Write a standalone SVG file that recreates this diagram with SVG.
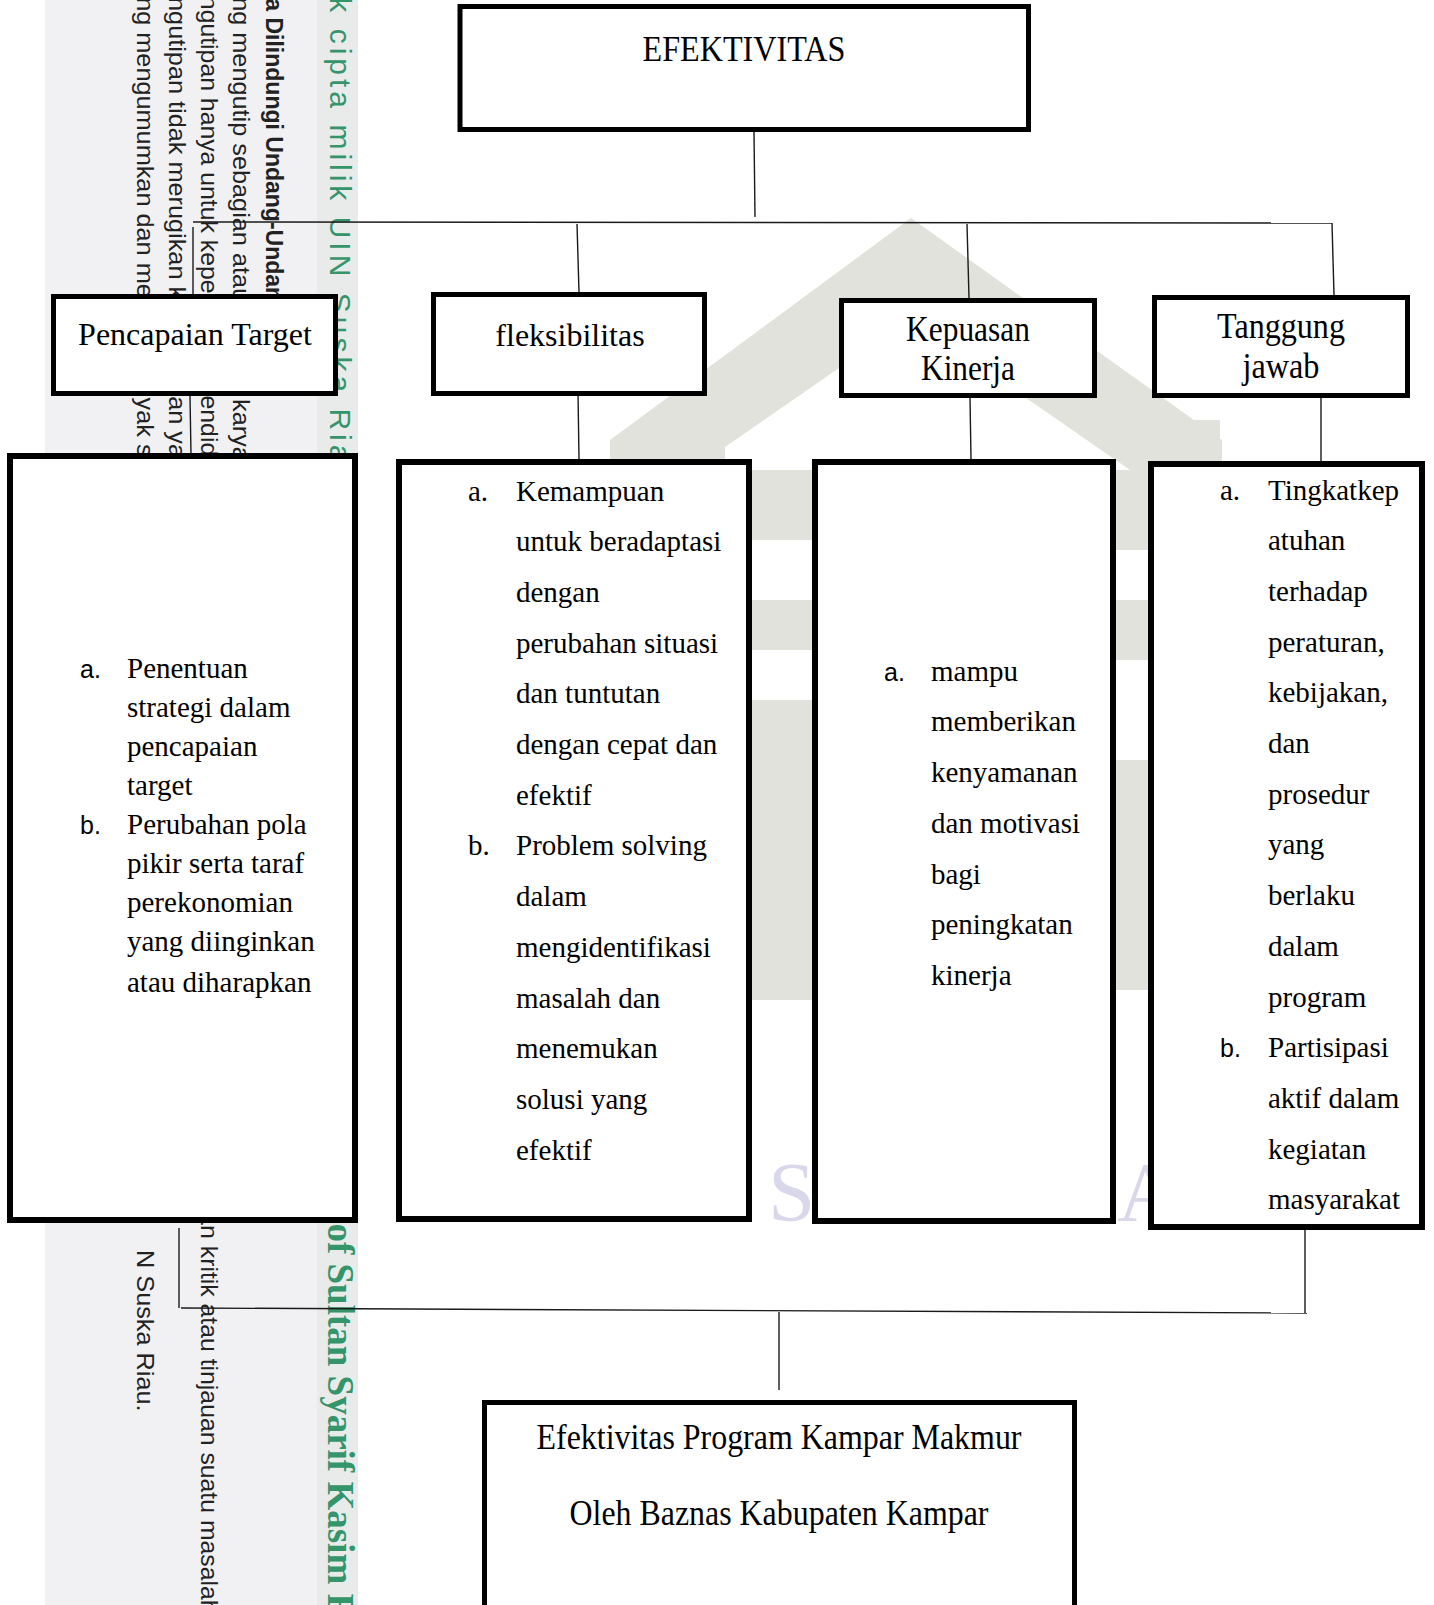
<svg xmlns="http://www.w3.org/2000/svg" width="1434" height="1605" viewBox="0 0 1434 1605">
<style>
.box{fill:#ffffff;stroke:#000000;stroke-width:5}
.box6{fill:#ffffff;stroke:#000000;stroke-width:6}
.ln{stroke:#1a1a1a;stroke-width:1.4;fill:none}
.t32{font-family:"Liberation Serif","Times New Roman",serif;font-size:32px;fill:#000}
.t36{font-family:"Liberation Serif","Times New Roman",serif;font-size:36px;fill:#000}
.t29{font-family:"Liberation Serif","Times New Roman",serif;font-size:29px;fill:#000}
.lbs{font-family:"Liberation Sans",Arial,sans-serif;font-size:25px;fill:#000}
.wm{font-family:"Liberation Sans",Arial,sans-serif;font-size:23px;fill:#222}
.wmb{font-family:"Liberation Sans",Arial,sans-serif;font-size:23px;font-weight:bold;fill:#222}
.gr{fill:#35956a;font-family:"Liberation Sans",Arial,sans-serif;font-size:30px;letter-spacing:4px}
.grs{fill:#35956a;font-family:"Liberation Serif","Times New Roman",serif;font-size:37px;font-weight:bold}
.logo{fill:#e2e2dc}
</style>

<!-- background watermark band -->
<g id="watermark">
  <rect x="45" y="0" width="272" height="1605" fill="#f1f1f3"/>
  <rect x="317" y="0" width="41" height="1605" fill="#e9eaea"/>
  <text class="wmb" transform="translate(266,-95) rotate(90)">Hak Cipta Dilindungi Undang-Undang</text>
  <text class="wm" transform="translate(233,-97) rotate(90) scale(1.1,1)">1. Dilarang mengutip sebagian atau seluruh karya tulis ini tanpa mencantumkan dan menyebutkan sumber:</text>
  <text class="wm" transform="translate(201,-62) rotate(90) scale(1.078,1)">a. Pengutipan hanya untuk kepentingan pendidikan, penelitian, penulisan karya ilmiah, penyusunan laporan, penulisan kritik atau tinjauan suatu masalah.</text>
  <text class="wm" transform="translate(169,-62) rotate(90) scale(1.1,1)">b. Pengutipan tidak merugikan kepentingan yang wajar UIN Suska Riau.</text>
  <text class="wm" transform="translate(137,-97) rotate(90) scale(1.1,1)">2. Dilarang mengumumkan dan memperbanyak sebagian atau seluruh karya tulis ini dalam bentuk apapun tanpa izin</text>
  <text class="wm" transform="translate(137,1250) rotate(90) scale(1.1,1)">N Suska Riau.</text>
  <text class="gr" transform="translate(330,-49) rotate(90)">Hak cipta milik UIN Suska Riau</text>
  <text class="grs" transform="translate(328,836) rotate(90)">State Islamic University of Sultan Syarif Kasim Riau</text>
  <!-- faint logo -->
  <polygon class="logo" points="911,218 1222,440 1222,470 1130,470 911,318 692,470 610,470 610,440"/>
  <rect class="logo" x="612" y="440" width="46" height="30"/>
  <rect class="logo" x="680" y="420" width="45" height="50"/>
  <rect class="logo" x="1170" y="420" width="50" height="50"/>
  <rect class="logo" x="752" y="470" width="60" height="70"/>
  <rect class="logo" x="752" y="600" width="60" height="50"/>
  <rect class="logo" x="752" y="700" width="60" height="300"/>
  <rect class="logo" x="1116" y="470" width="32" height="80"/>
  <rect class="logo" x="1116" y="600" width="32" height="60"/>
  <rect class="logo" x="1116" y="760" width="32" height="230"/>
  <text x="768" y="1221" font-family="'Liberation Serif',serif" font-size="85" fill="#d8d8ea" letter-spacing="33">SUSKA</text>
</g>

<g id="connectors">
  <path class="ln" d="M754,132 L755,217"/>
  <path class="ln" d="M193,222 L1332,223"/>
  <path class="ln" d="M193,227 L193,294"/>
  <path class="ln" d="M577,224 L579,292"/>
  <path class="ln" d="M967,224 L969,298"/>
  <path class="ln" d="M1332,223 L1334,295"/>
  <path class="ln" d="M190,396 L191,455"/>
  <path class="ln" d="M578,392 L579,459"/>
  <path class="ln" d="M970,398 L971,459"/>
  <path class="ln" d="M1321,398 L1321,461"/>
  <path class="ln" d="M179,1228 L179,1308"/>
  <path class="ln" d="M181,1308 L1307,1313"/>
  <path class="ln" d="M1305,1230 L1305,1313"/>
  <path class="ln" d="M779,1312 L779,1390"/>
</g>

<g id="node-efektivitas">
  <rect class="box" x="460" y="6.5" width="568.5" height="123"/>
  <text class="t36" x="744" y="61" text-anchor="middle" textLength="203" lengthAdjust="spacingAndGlyphs">EFEKTIVITAS</text>
</g>

<g id="node-pencapaian">
  <rect class="box" x="53.5" y="296.5" width="282" height="97"/>
  <text class="t32" x="195" y="345" text-anchor="middle">Pencapaian Target</text>
</g>

<g id="node-fleksibilitas">
  <rect class="box" x="433.5" y="294.5" width="271" height="99"/>
  <text class="t32" x="570" y="346" text-anchor="middle">fleksibilitas</text>
</g>

<g id="node-kepuasan">
  <rect class="box" x="841.5" y="300.5" width="253" height="95"/>
  <text class="t36" x="968" y="341" text-anchor="middle" textLength="124" lengthAdjust="spacingAndGlyphs">Kepuasan</text>
  <text class="t36" x="968" y="380" text-anchor="middle" textLength="94" lengthAdjust="spacingAndGlyphs">Kinerja</text>
</g>

<g id="node-tanggung">
  <rect class="box" x="1154.5" y="297.5" width="253" height="98"/>
  <text class="t36" x="1281" y="338" text-anchor="middle" textLength="128" lengthAdjust="spacingAndGlyphs">Tanggung</text>
  <text class="t36" x="1281" y="378" text-anchor="middle" textLength="77" lengthAdjust="spacingAndGlyphs">jawab</text>
</g>

<g id="node-pencapaian-detail">
  <rect class="box6" x="10" y="456" width="345" height="764"/>
  <text class="lbs" x="80" y="678">a.</text>
  <text class="t29" x="127" y="678">Penentuan</text>
  <text class="t29" x="127" y="717">strategi dalam</text>
  <text class="t29" x="127" y="756">pencapaian</text>
  <text class="t29" x="127" y="795">target</text>
  <text class="lbs" x="80" y="834">b.</text>
  <text class="t29" x="127" y="834">Perubahan pola</text>
  <text class="t29" x="127" y="873">pikir serta taraf</text>
  <text class="t29" x="127" y="912">perekonomian</text>
  <text class="t29" x="127" y="951">yang diinginkan</text>
  <text class="t29" x="127" y="992">atau diharapkan</text>
</g>

<g id="node-fleksibilitas-detail">
  <rect class="box6" x="399" y="462" width="350" height="757"/>
  <text class="t29" x="468" y="501">a.</text>
  <text class="t29" x="516" y="501">Kemampuan</text>
  <text class="t29" x="516" y="551">untuk beradaptasi</text>
  <text class="t29" x="516" y="602">dengan</text>
  <text class="t29" x="516" y="653">perubahan situasi</text>
  <text class="t29" x="516" y="703">dan tuntutan</text>
  <text class="t29" x="516" y="754">dengan cepat dan</text>
  <text class="t29" x="516" y="805">efektif</text>
  <text class="t29" x="468" y="855">b.</text>
  <text class="t29" x="516" y="855">Problem solving</text>
  <text class="t29" x="516" y="906">dalam</text>
  <text class="t29" x="516" y="957">mengidentifikasi</text>
  <text class="t29" x="516" y="1008">masalah dan</text>
  <text class="t29" x="516" y="1058">menemukan</text>
  <text class="t29" x="516" y="1109">solusi yang</text>
  <text class="t29" x="516" y="1160">efektif</text>
</g>

<g id="node-kepuasan-detail">
  <rect class="box6" x="815" y="462" width="298" height="759"/>
  <text class="lbs" x="884" y="681">a.</text>
  <text class="t29" x="931" y="681">mampu</text>
  <text class="t29" x="931" y="731">memberikan</text>
  <text class="t29" x="931" y="782">kenyamanan</text>
  <text class="t29" x="931" y="833">dan motivasi</text>
  <text class="t29" x="931" y="884">bagi</text>
  <text class="t29" x="931" y="934">peningkatan</text>
  <text class="t29" x="931" y="985">kinerja</text>
</g>

<g id="node-tanggung-detail">
  <rect class="box6" x="1151" y="464" width="271" height="763"/>
  <text class="t29" x="1220" y="500">a.</text>
  <text class="t29" x="1268" y="500">Tingkatkep</text>
  <text class="t29" x="1268" y="550">atuhan</text>
  <text class="t29" x="1268" y="601">terhadap</text>
  <text class="t29" x="1268" y="652">peraturan,</text>
  <text class="t29" x="1268" y="702">kebijakan,</text>
  <text class="t29" x="1268" y="753">dan</text>
  <text class="t29" x="1268" y="804">prosedur</text>
  <text class="t29" x="1268" y="854">yang</text>
  <text class="t29" x="1268" y="905">berlaku</text>
  <text class="t29" x="1268" y="956">dalam</text>
  <text class="t29" x="1268" y="1007">program</text>
  <text class="lbs" x="1220" y="1057">b.</text>
  <text class="t29" x="1268" y="1057">Partisipasi</text>
  <text class="t29" x="1268" y="1108">aktif dalam</text>
  <text class="t29" x="1268" y="1159">kegiatan</text>
  <text class="t29" x="1268" y="1209">masyarakat</text>
</g>

<g id="node-hasil">
  <rect class="box" x="484.5" y="1402.5" width="590" height="260"/>
  <text class="t36" x="779" y="1449" text-anchor="middle" textLength="485" lengthAdjust="spacingAndGlyphs">Efektivitas Program Kampar Makmur</text>
  <text class="t36" x="779" y="1525" text-anchor="middle" textLength="419" lengthAdjust="spacingAndGlyphs">Oleh Baznas Kabupaten Kampar</text>
</g>
</svg>
